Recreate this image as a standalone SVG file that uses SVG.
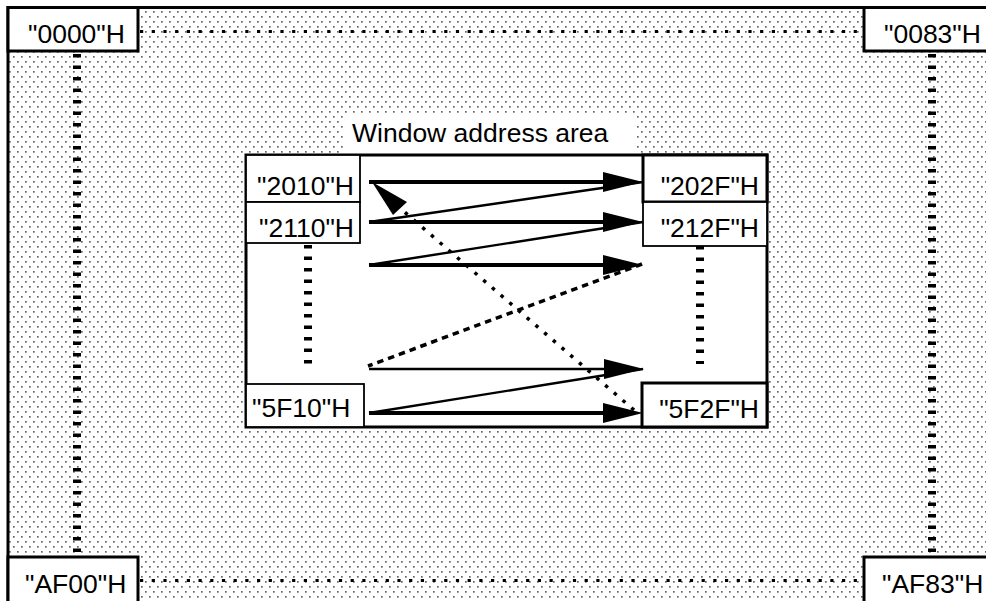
<svg xmlns="http://www.w3.org/2000/svg" width="986" height="601" viewBox="0 0 986 601">
<defs>
<pattern id="dots" x="0" y="0" width="8" height="10" patternUnits="userSpaceOnUse">
<rect x="1" y="1" width="1.7" height="1.7" fill="#666"/>
<rect x="5" y="6" width="1.7" height="1.7" fill="#666"/>
</pattern>
</defs>
<style>
text{font-family:"Liberation Sans",Arial,sans-serif;font-size:26.5px;fill:#000}
.thick{fill:#fff;stroke:#000;stroke-width:3}
.thin{fill:#fff;stroke:#000;stroke-width:1.8}
.vdash{stroke:#000;stroke-width:8;stroke-dasharray:3.5 8;fill:none}
.hdot{stroke:#000;stroke-width:3.2;stroke-dasharray:3.2 8.5;fill:none}
.arr{stroke:#000;stroke-width:3.8;fill:none}
.diag{stroke:#000;stroke-width:2.4;fill:none}
.head{fill:#000;stroke:none}
</style>
<g id="frame">
<rect x="8" y="7.5" width="990" height="600" fill="url(#dots)" stroke="#000" stroke-width="3"/>
</g>
<g id="guides">
<line class="hdot" x1="140" y1="31.5" x2="863" y2="31.5"/>
<line class="hdot" x1="140" y1="580.5" x2="863" y2="580.5"/>
<line class="vdash" x1="77" y1="54" x2="77" y2="556"/>
<line class="vdash" x1="932" y1="54" x2="932" y2="556"/>
</g>
<g id="n0000"><rect class="thick" x="8" y="7.5" width="130" height="43.5"/><text x="28" y="43">"0000"H</text></g>
<g id="n0083"><rect class="thick" x="864" y="7.5" width="130" height="43.5"/><text x="884" y="43">"0083"H</text></g>
<g id="nAF00"><rect class="thick" x="8" y="557" width="130" height="50"/><text x="25" y="593">"AF00"H</text></g>
<g id="nAF83"><rect class="thick" x="864" y="557" width="130" height="50"/><text x="882" y="593">"AF83"H</text></g>
<g id="window">
<rect x="345" y="116" width="292" height="39" fill="#fff"/>
<text x="352" y="142">Window address area</text>
<rect class="thick" x="246" y="155" width="521" height="272"/>
</g>
<g id="n2010"><rect class="thin" x="246" y="155" width="114" height="47"/><text x="354" y="195" text-anchor="end">"2010"H</text></g>
<g id="n2110"><rect class="thin" x="246" y="202" width="114" height="41"/><text x="354" y="237" text-anchor="end">"2110"H</text></g>
<g id="n5F10"><rect class="thin" x="246" y="384" width="118" height="43"/><text x="252" y="417">"5F10"H</text></g>
<g id="n202F"><rect class="thick" x="643" y="155" width="124" height="47"/><text x="759" y="195" text-anchor="end">"202F"H</text></g>
<g id="n212F"><rect class="thin" x="643" y="202" width="124" height="44"/><text x="759" y="237" text-anchor="end">"212F"H</text></g>
<g id="n5F2F"><rect class="thick" x="642" y="383" width="125" height="44"/><text x="759" y="418" text-anchor="end">"5F2F"H</text></g>
<g id="inner-guides">
<line class="vdash" x1="308" y1="245" x2="308" y2="364"/>
<line class="vdash" x1="700" y1="246" x2="700" y2="364"/>
</g>
<g id="connectors">
<line class="arr" x1="369" y1="182" x2="610" y2="182"/>
<line class="arr" x1="369" y1="222" x2="610" y2="222"/>
<line class="arr" x1="369" y1="265" x2="610" y2="265"/>
<line class="diag" stroke-width="2.8" x1="369" y1="369" x2="610" y2="369"/>
<line class="arr" stroke-width="4.2" x1="369" y1="413" x2="610" y2="413"/>
<line class="diag" x1="369" y1="222" x2="643" y2="182"/>
<line class="diag" x1="369" y1="265" x2="643" y2="222"/>
<line class="diag" x1="369" y1="413" x2="643" y2="369"/>
<line stroke="#000" stroke-width="3.5" stroke-dasharray="6.5 5" fill="none" x1="642" y1="264" x2="368" y2="366"/>
<line stroke="#000" stroke-width="3.5" stroke-dasharray="3.5 8" fill="none" x1="634" y1="410" x2="401" y2="209"/>
<polygon class="head" points="643,182 603,172 603,192"/>
<polygon class="head" points="643,222 603,212 603,232"/>
<polygon class="head" points="643,265 603,255 603,275"/>
<polygon class="head" points="644,369 604,359 604,379"/>
<polygon class="head" points="643,413 603,403 603,423"/>
<polygon class="head" points="372,182 407,202 393,215"/>
</g>
</svg>
